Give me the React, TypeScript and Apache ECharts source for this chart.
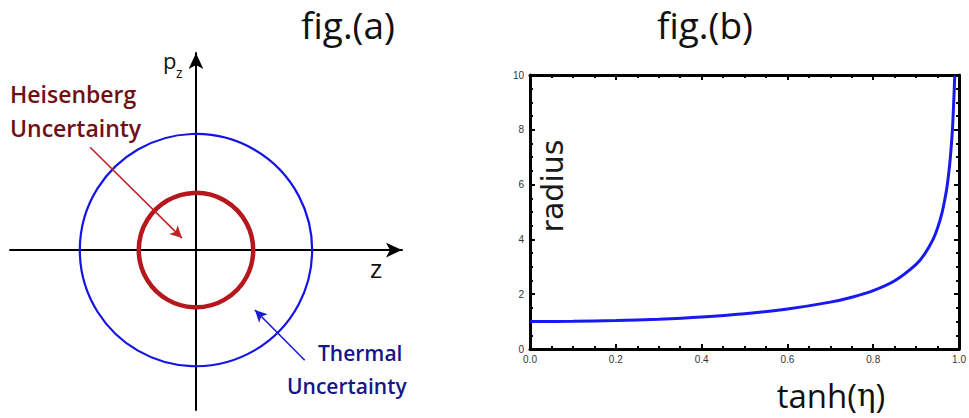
import React, { useEffect, useRef } from "react";
import * as echarts from "echarts";

// ---- fig.(a) data (phase-space units: Heisenberg radius = 1) ----
const circleCenter = [0, 0];
const heisenbergRadius = 1.0;
const thermalRadius = 2.03;
const heisenbergArrow = [[-1.85, 1.8], [-0.245, 0.21]];
const thermalArrow = [[1.9, -1.93], [1.03, -1.05]];

// ---- fig.(b) data ----
const tanhEta = [0, 0.1, 0.2, 0.3, 0.4, 0.5, 0.6, 0.7, 0.75, 0.8, 0.85, 0.9, 0.92, 0.94, 0.95, 0.96, 0.97, 0.975, 0.98, 0.985, 0.99];
const radius = [1.0, 1.01, 1.04, 1.09, 1.17, 1.29, 1.46, 1.71, 1.89, 2.13, 2.49, 3.09, 3.47, 4.02, 4.42, 4.95, 5.73, 6.29, 7.04, 8.13, 9.98];
const xTicksB = [0, 0.2, 0.4, 0.6, 0.8, 1.0];
const yTicksB = [0, 2, 4, 6, 8, 10];

const TXT = "'Open Sans', 'Noto Sans', sans-serif";

function circleRenderer(color: string, width: number) {
  return (params: any, api: any) => {
    const c = api.coord([api.value(0), api.value(1)]);
    const s = api.size([api.value(2), api.value(2)]);
    return {
      type: "circle",
      shape: { cx: c[0], cy: c[1], r: s[0] },
      style: { fill: "none", stroke: color, lineWidth: width },
    };
  };
}

export default function App() {
  const ref = useRef<HTMLDivElement>(null);
  useEffect(() => {
    if (!ref.current) return;
    const chart = echarts.init(ref.current, null, { renderer: "svg" });
    const frameAxisLine = { show: true, onZero: false, lineStyle: { color: "#000", width: 3 } };
    const frameTick = { show: true, inside: true, length: 5, lineStyle: { color: "#000", width: 2 } };
    const frameMinor = { show: true, splitNumber: 4, length: 3, lineStyle: { color: "#000", width: 2 } };
    const lbl = { fontSize: 10, color: "#333", fontFamily: "'Liberation Sans', Arial, sans-serif" };
    const option: any = {
      animation: false,
      backgroundColor: "#fff",
      grid: [
        { left: 10, width: 392, top: 53, height: 357, containLabel: false },
        { left: 530, right: 6, top: 75, height: 274, containLabel: false },
      ],
      xAxis: [
        {
          gridIndex: 0, type: "value", min: -3.25, max: 3.6,
          axisLine: { show: true, onZero: true, symbol: ["none", "arrow"], symbolSize: [11, 16], lineStyle: { color: "#000", width: 2 } },
          axisTick: { show: false }, axisLabel: { show: false }, splitLine: { show: false },
        },
        {
          gridIndex: 1, type: "value", position: "bottom", min: xTicksB[0], max: xTicksB[xTicksB.length - 1], interval: 0.2,
          axisLine: frameAxisLine, axisTick: frameTick, minorTick: frameMinor, splitLine: { show: false },
          axisLabel: { ...lbl, margin: 5, formatter: (v: number) => v.toFixed(1) },
        },
        {
          gridIndex: 1, type: "value", position: "top", min: xTicksB[0], max: xTicksB[xTicksB.length - 1], interval: 0.2,
          axisLine: frameAxisLine, axisTick: frameTick, minorTick: frameMinor, splitLine: { show: false },
          axisLabel: { show: false },
        },
      ],
      yAxis: [
        {
          gridIndex: 0, type: "value", min: -2.8, max: 3.45,
          axisLine: { show: true, onZero: true, symbol: ["none", "arrow"], symbolSize: [11, 16], lineStyle: { color: "#000", width: 2 } },
          axisTick: { show: false }, axisLabel: { show: false }, splitLine: { show: false },
        },
        {
          gridIndex: 1, type: "value", position: "left", min: yTicksB[0], max: yTicksB[yTicksB.length - 1], interval: 2,
          axisLine: frameAxisLine, axisTick: frameTick, minorTick: frameMinor, splitLine: { show: false },
          axisLabel: { ...lbl, margin: 6 },
        },
        {
          gridIndex: 1, type: "value", position: "right", min: yTicksB[0], max: yTicksB[yTicksB.length - 1], interval: 2,
          axisLine: frameAxisLine, axisTick: frameTick, minorTick: frameMinor, splitLine: { show: false },
          axisLabel: { show: false },
        },
      ],
      series: [
        {
          name: "Thermal Uncertainty",
          type: "custom",
          xAxisIndex: 0, yAxisIndex: 0,
          renderItem: circleRenderer("#1414e6", 2.2),
          data: [[circleCenter[0], circleCenter[1], thermalRadius]],
          silent: true,
          markLine: {
            silent: true, symbol: ["none", "arrow"], symbolSize: [9, 12],
            label: { show: false },
            lineStyle: { color: "#1a1ad0", width: 1.6, type: "solid" },
            data: [[{ coord: thermalArrow[0] }, { coord: thermalArrow[1] }]],
          },
        },
        {
          name: "Heisenberg Uncertainty",
          type: "custom",
          xAxisIndex: 0, yAxisIndex: 0,
          renderItem: circleRenderer("#b5171c", 4.5),
          data: [[circleCenter[0], circleCenter[1], heisenbergRadius]],
          silent: true,
          markLine: {
            silent: true, symbol: ["none", "arrow"], symbolSize: [9, 12],
            label: { show: false },
            lineStyle: { color: "#c0232a", width: 1.6, type: "solid" },
            data: [[{ coord: heisenbergArrow[0] }, { coord: heisenbergArrow[1] }]],
          },
        },
        {
          name: "radius",
          type: "line",
          xAxisIndex: 1, yAxisIndex: 1,
          data: tanhEta.map((x, i) => [x, radius[i]]),
          showSymbol: false,
          smooth: 0.3,
          lineStyle: { color: "#1818f0", width: 3 },
          itemStyle: { color: "#1818f0" },
        },
      ],
      graphic: [
        { type: "text", x: 348, y: 24, style: { text: "fig.(a)", font: `37px ${TXT}`, fill: "#111", align: "center", verticalAlign: "middle" } },
        { type: "text", x: 705, y: 24, style: { text: "fig.(b)", font: `37px ${TXT}`, fill: "#111", align: "center", verticalAlign: "middle" } },
        { type: "text", x: 10, y: 94, style: { text: "Heisenberg", font: `600 23px ${TXT}`, fill: "#6e1014", align: "left", verticalAlign: "middle" } },
        { type: "text", x: 10, y: 128, style: { text: "Uncertainty", font: `600 23px ${TXT}`, fill: "#6e1014", align: "left", verticalAlign: "middle" } },
        { type: "text", x: 318, y: 353, style: { text: "Thermal", font: `600 21px ${TXT}`, fill: "#16168a", align: "left", verticalAlign: "middle" } },
        { type: "text", x: 287, y: 386, style: { text: "Uncertainty", font: `600 21px ${TXT}`, fill: "#16168a", align: "left", verticalAlign: "middle" } },
        { type: "text", x: 163, y: 60, style: { text: "p", font: `22px ${TXT}`, fill: "#111", align: "left", verticalAlign: "middle" } },
        { type: "text", x: 176, y: 72, style: { text: "z", font: `14px ${TXT}`, fill: "#111", align: "left", verticalAlign: "middle" } },
        { type: "text", x: 376, y: 268, style: { text: "z", font: `26px ${TXT}`, fill: "#111", align: "center", verticalAlign: "middle" } },
        {
          type: "text", x: 552, y: 186, rotation: Math.PI / 2,
          style: { text: "radius", font: "30px 'DejaVu Sans', sans-serif", fill: "#1a1a1a", align: "center", verticalAlign: "middle" },
        },
        {
          type: "text", x: 831, y: 395,
          style: {
            text: "{a|tanh(}{b|η}{a|)}", align: "center", verticalAlign: "middle",
            rich: {
              a: { fontSize: 33, fontFamily: TXT, fill: "#111", color: "#111" },
              b: { fontSize: 31, fontFamily: "'DejaVu Serif', serif", fill: "#111", color: "#111" },
            },
          },
        },
      ],
    };
    chart.setOption(option);
    return () => chart.dispose();
  }, []);
  return (
    <div
      ref={ref}
      style={{ position: "fixed", left: 0, top: 0, width: 969, height: 418, background: "#fff" }}
    />
  );
}
